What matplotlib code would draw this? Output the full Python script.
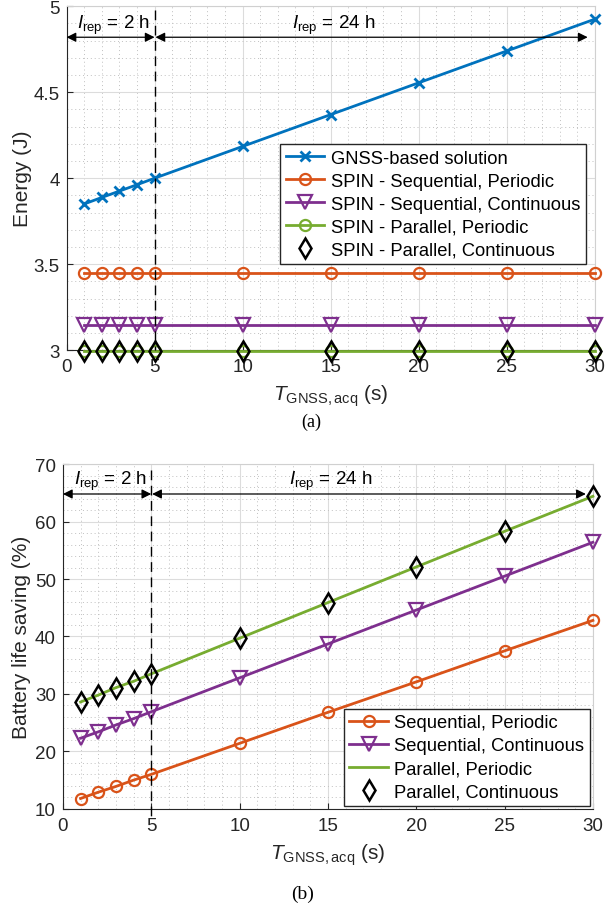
#!/usr/bin/env python
"""Energy and battery life saving vs GNSS acquisition time."""

import matplotlib
matplotlib.use("Agg")
import matplotlib.pyplot as plt
from matplotlib.ticker import MultipleLocator

plt.rcParams["font.family"] = ["Liberation Sans", "DejaVu Sans"]
plt.rcParams["mathtext.fontset"] = "custom"
plt.rcParams["mathtext.rm"] = "Liberation Sans"
plt.rcParams["mathtext.it"] = "Liberation Sans:italic"

# data
t_acq = [1, 2, 3, 4, 5, 10, 15, 20, 25, 30]

energy_gnss = [3.85, 3.888, 3.925, 3.962, 4.0, 4.185, 4.37, 4.555, 4.74, 4.925]
energy_seq_per = [3.45] * 10
energy_seq_cont = [3.145] * 10
energy_par_per = [2.995] * 10
energy_par_cont = [2.995] * 10

save_seq_per = [11.8, 12.9, 13.9, 15.0, 16.0, 21.4, 26.8, 32.1, 37.5, 42.8]
save_seq_cont = [22.3, 23.4, 24.6, 25.7, 26.9, 32.8, 38.7, 44.6, 50.5, 56.4]
save_par_per = [28.6, 29.8, 31.1, 32.2, 33.5, 39.7, 45.9, 52.1, 58.3, 64.4]
save_par_cont = [28.6, 29.8, 31.1, 32.2, 33.5, 39.7, 45.9, 52.1, 58.3, 64.4]

BLUE = "#0072BD"
ORANGE = "#D95319"
PURPLE = "#7E2F8E"
GREEN = "#77AC30"
DARK = "#262626"

XLABEL = r"$T_{\mathrm{GNSS,acq}}$ (s)"

LEG = dict(fontsize=13.2, frameon=True, fancybox=False, edgecolor=DARK,
           framealpha=1, handlelength=2.1, handletextpad=0.35,
           borderpad=0.3, labelspacing=0.33, borderaxespad=0.0)


def style_axes(ax, ymin, ymax, ymaj, ymin_step):
    ax.set_xlim(0, 30)
    ax.set_ylim(ymin, ymax)
    ax.xaxis.set_major_locator(MultipleLocator(5))
    ax.xaxis.set_minor_locator(MultipleLocator(1))
    ax.yaxis.set_major_locator(MultipleLocator(ymaj))
    ax.yaxis.set_minor_locator(MultipleLocator(ymin_step))
    ax.grid(which="major", color="#dcdcdc", linewidth=0.8)
    ax.grid(which="minor", color="#c0c0c0", linestyle=(0, (1, 3)), linewidth=0.7)
    ax.set_axisbelow(True)
    ax.tick_params(which="both", direction="in", colors=DARK, labelsize=13.5,
                   top=False, right=False)
    ax.tick_params(which="minor", length=0)
    ax.tick_params(axis="x", which="major", length=4, pad=6)
    ax.tick_params(axis="y", which="major", length=4, pad=5)
    for s in ("left", "bottom"):
        ax.spines[s].set_color(DARK)
    for s in ("top", "right"):
        ax.spines[s].set_color("#d0d0d0")
    ax.set_xlabel(XLABEL, fontsize=15, color=DARK, labelpad=5)


def interval_marks(ax, yarrow, ytext, ytop, ybot):
    ax.plot([5, 5], [ytop, ybot], color="black", linestyle=(0, (7, 4)),
            linewidth=1.0, clip_on=False, zorder=4)
    ax.annotate("", xy=(0, yarrow), xytext=(5, yarrow),
                arrowprops=dict(arrowstyle="<|-|>", color="black", lw=0.9,
                                mutation_scale=14, shrinkA=0, shrinkB=0))
    ax.annotate("", xy=(5.05, yarrow), xytext=(29.6, yarrow),
                arrowprops=dict(arrowstyle="<|-|>", color="black", lw=0.9,
                                mutation_scale=14, shrinkA=0, shrinkB=0))
    ax.text(0.6, ytext, r"$I_{\mathrm{rep}}$ = 2 h", fontsize=13.5, va="bottom")
    ax.text(12.8, ytext, r"$I_{\mathrm{rep}}$ = 24 h", fontsize=13.5, va="bottom")


fig = plt.figure(figsize=(6.05, 9.12), dpi=100)

# (a) energy
ax1 = fig.add_axes([0.110, 0.615, 0.873, 0.377])
style_axes(ax1, 3, 5, 0.5, 0.1)
ax1.plot(t_acq, energy_gnss, color=BLUE, lw=2, marker="x", ms=6.5, mew=2,
         label="GNSS-based solution", clip_on=False, zorder=3)
ax1.plot(t_acq, energy_seq_per, color=ORANGE, lw=2, marker="o", ms=8, mew=1.6,
         mfc="none", label="SPIN - Sequential, Periodic", clip_on=False, zorder=3)
ax1.plot(t_acq, energy_seq_cont, color=PURPLE, lw=2, marker="v", ms=9.5, mew=1.6,
         mfc="none", label="SPIN - Sequential, Continuous", clip_on=False, zorder=3)
ax1.plot(t_acq, energy_par_per, color=GREEN, lw=2, marker="o", ms=8, mew=1.6,
         mfc="none", label="SPIN - Parallel, Periodic", clip_on=False, zorder=3)
ax1.plot(t_acq, energy_par_cont, color="black", lw=0, marker="d", ms=10, mew=1.8,
         mfc="none", label="SPIN - Parallel, Continuous", clip_on=False, zorder=4)
ax1.set_ylabel("Energy (J)", fontsize=15, color=DARK, labelpad=1)
ax1.yaxis.set_major_formatter(plt.FuncFormatter(lambda v, p: f"{v:g}"))
interval_marks(ax1, 4.82, 4.83, 4.98, 3.0)
ax1.legend(loc="upper right", bbox_to_anchor=(0.983, 0.599), **LEG)

fig.text(0.515, 0.537, "(a)", ha="center", va="center", fontsize=13,
         family=["Liberation Serif", "DejaVu Serif"])

# (b) battery life saving
ax2 = fig.add_axes([0.104, 0.112, 0.876, 0.378])
style_axes(ax2, 10, 70, 10, 2)
ax2.plot(t_acq, save_seq_per, color=ORANGE, lw=2, marker="o", ms=8, mew=1.6,
         mfc="none", label="Sequential, Periodic", clip_on=False, zorder=3)
ax2.plot(t_acq, save_seq_cont, color=PURPLE, lw=2, marker="v", ms=9.5, mew=1.6,
         mfc="none", label="Sequential, Continuous", clip_on=False, zorder=3)
ax2.plot(t_acq, save_par_per, color=GREEN, lw=2,
         label="Parallel, Periodic", clip_on=False, zorder=3)
ax2.plot(t_acq, save_par_cont, color="black", lw=0, marker="d", ms=10, mew=1.8,
         mfc="none", label="Parallel, Continuous", clip_on=False, zorder=4)
ax2.set_ylabel("Battery life saving (%)", fontsize=15, color=DARK, labelpad=3)
interval_marks(ax2, 64.8, 65.2, 69, 8.5)
ax2.legend(loc="lower right", bbox_to_anchor=(0.994, 0.009), **LEG)

fig.text(0.5, 0.019, "(b)", ha="center", va="center", fontsize=14,
         family=["Liberation Serif", "DejaVu Serif"])

fig.savefig("out.png", dpi=100, facecolor="white")
